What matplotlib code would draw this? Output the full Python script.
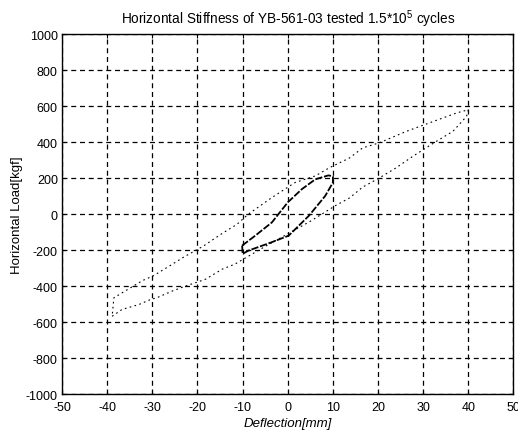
import numpy as np
import matplotlib
matplotlib.use('Agg')
from matplotlib import pyplot as plt

plt.rcParams['font.family'] = ['Liberation Sans', 'DejaVu Sans']
plt.rcParams['mathtext.default'] = 'regular'
plt.rcParams['axes.unicode_minus'] = False

# outer loop (+-40 mm), lower branch then upper branch
outer_x = [-38.9, -36.7, -33.0, -30.4, -29.0, -25.6, -22.6, -18.2, -14.5, -11.7,
           -5.0, 0.0, 5.0, 10.5, 13.7, 16.6, 20.3, 24.0, 27.7, 32.9, 36.6, 39.6,
           40.0, 37.4, 31.4, 26.3, 20.3, 16.6, 13.7, 9.2, 6.1, 1.6, -3.5, -8.7,
           -11.3, -14.3, -18.7, -23.1, -26.1, -29.7, -32.2, -38.5, -38.9]
outer_y = [-568, -530, -503, -475, -465, -428, -400, -362, -306, -278,
           -180, -110, -40, 46, 90, 150, 201, 257, 321, 404, 460, 543,
           580, 562, 507, 460, 396, 368, 312, 257, 212, 175, 92, 0,
           -58, -104, -178, -240, -287, -342, -370, -465, -568]

# inner loop (+-10 mm)
inner_x = [-10.1, -7.2, -3.5, 0.0, 3.1, 6.1, 9.0, 10.0,
           10.0, 8.3, 4.7, 0.2, -3.5, -8.7, -10.0, -10.1]
inner_y = [-175, -120, -46, 65, 138, 193, 215, 210,
           175, 101, -9, -120, -156, -203, -221, -175]

xticks = np.arange(-50, 51, 10)
yticks = np.arange(-1000, 1001, 200)

fig = plt.figure(figsize=(5.18, 4.31), dpi=100)
ax = fig.add_axes([0.1197, 0.0835, 0.8716, 0.835])

ax.plot(outer_x, outer_y, color='black', lw=0.8, ls=(0, (1.5, 3)))
ax.plot(inner_x, inner_y, color='black', lw=1.3, ls=(0, (4, 1)))

ax.set_xlim(-50, 50)
ax.set_ylim(-1000, 1000)
ax.set_xticks(xticks)
ax.set_yticks(yticks)
ax.tick_params(direction='in', labelsize=9, length=3, width=0.8,
               top=True, right=True)
ax.tick_params(axis='x', pad=5)
ax.tick_params(axis='y', pad=3)
ax.grid(True, color='black', lw=0.9, ls=(0, (4, 3)))
for s in ax.spines.values():
    s.set_linewidth(1.0)

ax.set_title('Horizontal Stiffness of YB-561-03 tested 1.5*10$^{5}$ cycles',
             fontsize=9.8, pad=8)
ax.set_xlabel('Deflection[mm]', fontsize=9.5, style='italic', labelpad=3)
ax.set_ylabel('Horizontal Load[kgf]', fontsize=9.5, labelpad=2)

fig.savefig('out.png', dpi=100)
